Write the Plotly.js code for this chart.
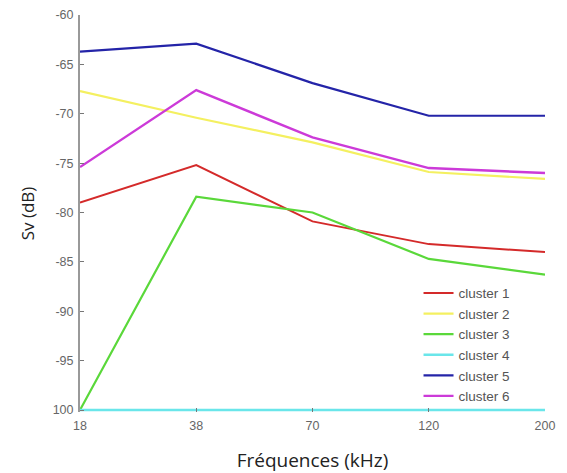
<!DOCTYPE html>
<html>
<head>
<meta charset="utf-8">
<script src="https://cdn.plot.ly/plotly-3.0.1.min.js"></script>
<style>html,body{margin:0;padding:0;background:#fff;}#chart{width:567px;height:473px;}</style>
</head>
<body>
<div id="chart"></div>
<script>
const frequencies = ["18", "38", "70", "120", "200"];
const cluster1 = [-79.0, -75.2, -80.9, -83.2, -84.0];
const cluster2 = [-67.7, -70.4, -72.9, -75.9, -76.6];
const cluster3 = [-100.0, -78.4, -80.0, -84.7, -86.3];
const cluster4 = [-100.0, -100.0, -100.0, -100.0, -100.0];
const cluster5 = [-63.7, -62.9, -66.9, -70.2, -70.2];
const cluster6 = [-75.4, -67.6, -72.4, -75.5, -76.0];
const seriesNames = ["cluster 1", "cluster 2", "cluster 3", "cluster 4", "cluster 5", "cluster 6"];
const yTickVals = [-60, -65, -70, -75, -80, -85, -90, -95, -100];
const yTickText = ["-60", "-65", "-70", "-75", "-80", "-85", "-90", "-95", "100"];

const seriesData = [cluster1, cluster2, cluster3, cluster4, cluster5, cluster6];
const colors = ["#d42a2a", "#f4f060", "#5ad83a", "#6ae6ea", "#2424a8", "#cc3ad8"];
const widths = [2, 2.2, 2.2, 2.4, 2.2, 2.4];

const traces = seriesData.map((ys, i) => ({
  x: frequencies,
  y: ys,
  type: "scatter",
  mode: "lines",
  name: seriesNames[i],
  line: {color: colors[i], width: widths[i]}
}));

const layout = {
  width: 567,
  height: 473,
  margin: {l: 80, r: 22, t: 15, b: 61},
  paper_bgcolor: "#ffffff",
  plot_bgcolor: "#ffffff",
  showlegend: true,
  legend: {
    x: 0.728, y: 0.338, xanchor: "left", yanchor: "top",
    bgcolor: "rgba(0,0,0,0)",
    font: {family: "Liberation Sans, Arial, sans-serif", size: 13.5, color: "#555"},
    tracegroupgap: 0
  },
  xaxis: {
    type: "category",
    range: [0, 4],
    showgrid: false,
    zeroline: false,
    showline: false,
    ticks: "inside",
    ticklen: 4,
    tickcolor: "#777",
    ticklabelstandoff: 4,
    tickfont: {family: "Liberation Sans, Arial, sans-serif", size: 12.5, color: "#666"},
    title: {text: "Fréquences (kHz)", font: {family: "Open Sans, sans-serif", size: 19, color: "#222"}, standoff: 24}
  },
  yaxis: {
    range: [-100.2, -60],
    showgrid: false,
    zeroline: false,
    showline: true,
    linecolor: "#999",
    linewidth: 2,
    ticks: "inside",
    ticklen: 4,
    tickcolor: "#777",
    ticklabelstandoff: 2,
    tickvals: yTickVals,
    ticktext: yTickText,
    tickfont: {family: "Liberation Sans, Arial, sans-serif", size: 12.5, color: "#666"},
    title: {text: "Sv (dB)", font: {family: "Open Sans, sans-serif", size: 17, color: "#222"}, standoff: 14}
  }
};

Plotly.newPlot("chart", traces, layout, {displayModeBar: false, staticPlot: true});
</script>
</body>
</html>
